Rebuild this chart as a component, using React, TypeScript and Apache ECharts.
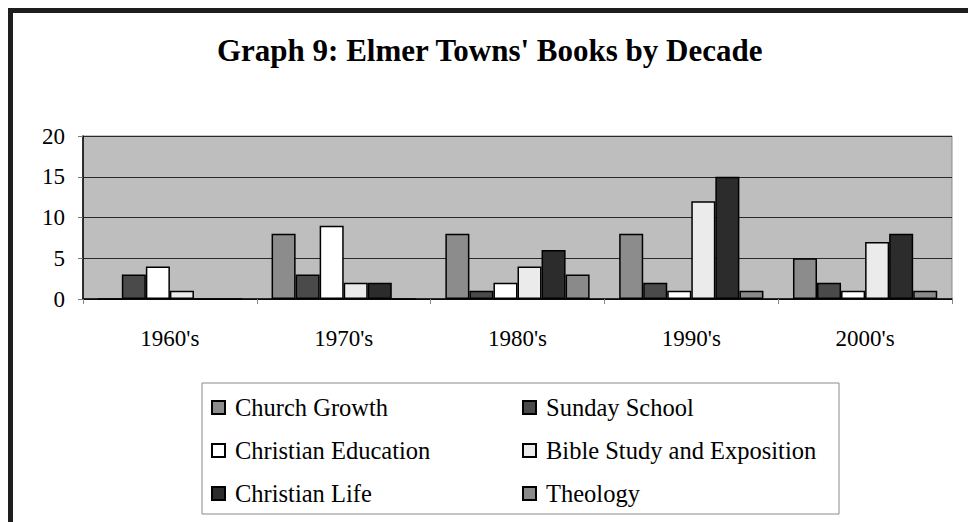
import React, { useEffect, useRef } from "react";
import * as echarts from "echarts";

const decades = ["1960's", "1970's", "1980's", "1990's", "2000's"];
const churchGrowth = [0, 8, 8, 8, 5];
const sundaySchool = [3, 3, 1, 2, 2];
const christianEducation = [4, 9, 2, 1, 1];
const bibleStudy = [1, 2, 4, 12, 7];
const christianLife = [0, 2, 6, 15, 8];
const theology = [0, 0, 3, 1, 1];
const yTicks = [0, 5, 10, 15, 20];

const FONT = "'Liberation Serif', 'Times New Roman', serif";

export default function App() {
  const ref = useRef<HTMLDivElement>(null);
  useEffect(() => {
    if (!ref.current) return;
    const chart = echarts.init(ref.current, undefined, { renderer: "svg" });
    const mk = (name: string, data: number[], color: string) => ({
      name,
      type: "bar",
      data,
      barGap: "0%",
      barCategoryGap: "17%",
      itemStyle: { color, borderColor: "#000", borderWidth: 1.5 },
    });
    const legendText = { fontFamily: FONT, fontSize: 24.5, color: "#000", lineHeight: 24, padding: [0, 0, 0, 5] };
    chart.setOption({
      animation: false,
      backgroundColor: "#fff",
      title: {
        text: "Graph 9: Elmer Towns' Books by Decade",
        left: 217,
        top: 35,
        padding: 0,
        textStyle: { fontFamily: FONT, fontSize: 31, fontWeight: "bold", color: "#000" },
      },
      grid: {
        left: 83,
        right: 16,
        top: 136,
        bottom: 223,
        show: true,
        backgroundColor: "#bebebe",
        borderColor: "#8a8a8a",
        borderWidth: 1,
      },
      xAxis: {
        type: "category",
        data: decades,
        axisLine: { lineStyle: { color: "#000", width: 1.5 } },
        axisTick: { show: true, length: 5, lineStyle: { color: "#888" } },
        axisLabel: { fontFamily: FONT, fontSize: 23, color: "#000", margin: 28 },
      },
      yAxis: {
        type: "value",
        min: yTicks[0],
        max: yTicks[yTicks.length - 1],
        interval: 5,
        axisLine: { show: true, lineStyle: { color: "#000", width: 1.5 } },
        axisTick: { show: true, length: 5, lineStyle: { color: "#777" } },
        axisLabel: { fontFamily: FONT, fontSize: 23, color: "#000", margin: 18 },
        splitLine: { show: true, lineStyle: { color: "#2a2a2a", width: 1 } },
      },
      legend: [
        {
          orient: "vertical",
          left: 211,
          top: 395,
          padding: 0,
          itemWidth: 13,
          itemHeight: 13,
          itemGap: 18,
          icon: "rect",
          data: ["Church Growth", "Christian Education", "Christian Life"],
          textStyle: legendText,
        },
        {
          orient: "vertical",
          left: 522,
          top: 395,
          padding: 0,
          itemWidth: 13,
          itemHeight: 13,
          itemGap: 18,
          icon: "rect",
          data: ["Sunday School", "Bible Study and Exposition", "Theology"],
          textStyle: legendText,
        },
      ],
      graphic: [
        {
          type: "rect",
          z: -1,
          shape: { x: 202, y: 383, width: 637, height: 131 },
          style: { fill: "#fff", stroke: "#8a8a8a", lineWidth: 1 },
          silent: true,
        },
        {
          type: "rect",
          shape: { x: 10.5, y: 10.5, width: 1000, height: 1000 },
          style: { fill: "none", stroke: "#1e1e1e", lineWidth: 5 },
          silent: true,
        },
      ],
      series: [
        mk("Church Growth", churchGrowth, "#8c8c8c"),
        mk("Sunday School", sundaySchool, "#4a4a4a"),
        mk("Christian Education", christianEducation, "#ffffff"),
        mk("Bible Study and Exposition", bibleStudy, "#ebebeb"),
        mk("Christian Life", christianLife, "#2c2c2c"),
        mk("Theology", theology, "#8a8a8a"),
      ],
    });
    return () => chart.dispose();
  }, []);
  return (
    <div
      ref={ref}
      style={{ position: "fixed", left: 0, top: 0, width: 968, height: 522 }}
    />
  );
}
